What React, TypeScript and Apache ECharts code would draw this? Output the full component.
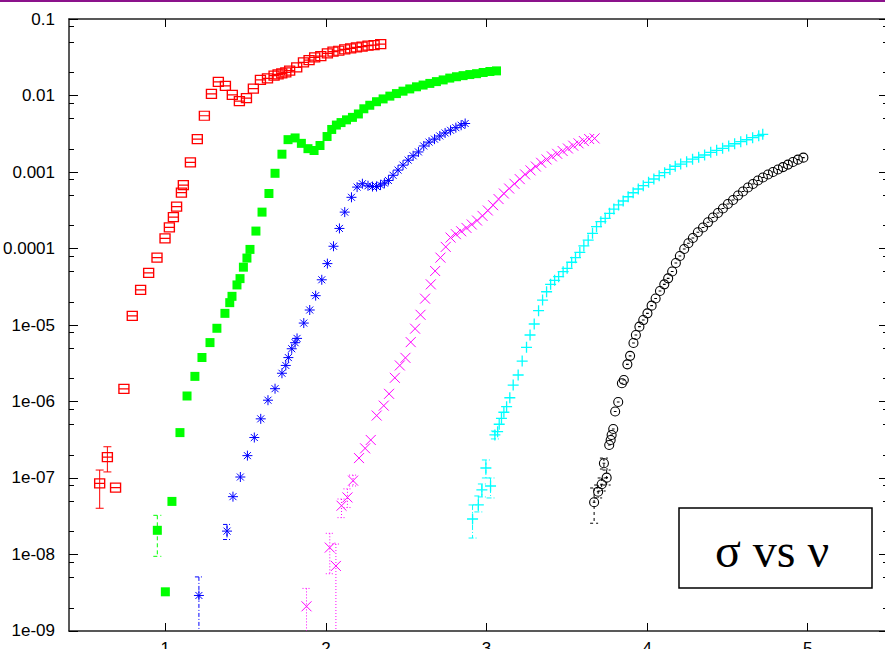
import React, { useEffect, useRef } from "react";
import * as echarts from "echarts";

// ---------- axis ticks / labels ----------
const xTickValues = [1, 2, 3, 4, 5];
const xTickLabels = ["1", "2", "3", "4", "5"];
const yTickValues = [1e-9, 1e-8, 1e-7, 1e-6, 1e-5, 1e-4, 1e-3, 1e-2, 1e-1];
const yTickLabels = ["1e-09", "1e-08", "1e-07", "1e-06", "1e-05", "0.0001", "0.001", "0.01", "0.1"];
const yMinorTickValues = [
  2e-9, 5e-9, 8e-9, 2e-8, 5e-8, 8e-8, 2e-7, 5e-7, 8e-7, 2e-6, 5e-6, 8e-6,
  2e-5, 5e-5, 8e-5, 2e-4, 5e-4, 8e-4, 2e-3, 5e-3, 8e-3, 2e-2, 5e-2, 8e-2,
];
const titleText = "σ vs ν";

// ---------- data ----------
const redX = [0.591,0.639,0.690,0.742,0.794,0.846,0.896,0.948,0.998,1.025,1.050,1.070,1.100,1.112,1.156,1.199,1.243,1.287,1.330,1.374,1.417,1.461,1.505,1.548,1.592,1.636,1.677,1.702,1.725,1.750,1.774,1.818,1.860,1.895,1.930,1.968,2.009,2.044,2.080,2.117,2.154,2.190,2.225,2.262,2.300,2.341];
const redY = [8.53e-8,1.87e-7,7.46e-8,1.46e-6,1.32e-5,2.87e-5,4.79e-5,7.59e-5,1.36e-4,1.89e-4,2.58e-4,3.52e-4,5.36e-4,6.76e-4,1.34e-3,2.70e-3,5.44e-3,1.05e-2,1.51e-2,1.34e-2,1.02e-2,8.47e-3,9.27e-3,1.23e-2,1.60e-2,1.68e-2,1.82e-2,1.89e-2,1.95e-2,2.01e-2,2.11e-2,2.34e-2,2.72e-2,2.91e-2,3.16e-2,3.28e-2,3.56e-2,3.74e-2,3.85e-2,4.02e-2,4.14e-2,4.27e-2,4.35e-2,4.48e-2,4.57e-2,4.71e-2];
const redErr = [[0.591, 4.02e-8, 1.27e-7], [0.639, 1.20e-7, 2.56e-7]];

const greenX = [0.950,1.000,1.041,1.091,1.135,1.184,1.228,1.278,1.321,1.371,1.401,1.415,1.446,1.465,1.486,1.508,1.527,1.564,1.602,1.645,1.683,1.726,1.764,1.808,1.847,1.888,1.926,1.963,2.007,2.036,2.065,2.094,2.128,2.165,2.202,2.236,2.273,2.315,2.356,2.398,2.439,2.480,2.522,2.564,2.605,2.647,2.688,2.730,2.771,2.813,2.854,2.896,2.938,2.979,3.021,3.062];
const greenY = [2.07e-8,3.25e-9,4.94e-8,3.92e-7,1.18e-6,2.13e-6,3.76e-6,5.89e-6,9.06e-6,1.42e-5,1.96e-5,2.37e-5,3.34e-5,4.04e-5,5.70e-5,7.50e-5,9.73e-5,1.69e-4,2.99e-4,5.24e-4,9.62e-4,1.71e-3,2.65e-3,2.79e-3,2.37e-3,2.02e-3,1.91e-3,2.22e-3,2.91e-3,3.60e-3,4.11e-3,4.43e-3,4.81e-3,5.18e-3,5.74e-3,6.71e-3,7.46e-3,8.30e-3,9.03e-3,9.82e-3,1.06e-2,1.14e-2,1.22e-2,1.30e-2,1.37e-2,1.44e-2,1.52e-2,1.60e-2,1.69e-2,1.76e-2,1.82e-2,1.88e-2,1.93e-2,2.00e-2,2.06e-2,2.10e-2];
const greenErr = [[0.950, 9.46e-9, 3.25e-8]];

const blueX = [1.209,1.384,1.421,1.467,1.511,1.554,1.594,1.639,1.683,1.726,1.750,1.766,1.787,1.808,1.820,1.862,1.899,1.936,1.974,2.009,2.047,2.084,2.117,2.159,2.194,2.227,2.262,2.290,2.315,2.340,2.364,2.389,2.418,2.449,2.480,2.512,2.543,2.576,2.609,2.642,2.676,2.709,2.742,2.776,2.809,2.842,2.867];
const blueY = [2.91e-9,2.02e-8,5.70e-8,1.03e-7,1.96e-7,3.38e-7,5.93e-7,1.04e-6,1.47e-6,2.34e-6,2.96e-6,3.75e-6,4.89e-6,5.87e-6,6.68e-6,1.06e-5,1.57e-5,2.42e-5,3.90e-5,6.35e-5,1.07e-4,1.83e-4,2.99e-4,4.67e-4,6.35e-4,7.03e-4,6.61e-4,6.46e-4,6.46e-4,6.75e-4,7.16e-4,7.76e-4,9.06e-4,1.06e-3,1.23e-3,1.43e-3,1.63e-3,1.83e-3,2.19e-3,2.46e-3,2.69e-3,2.96e-3,3.24e-3,3.51e-3,3.80e-3,4.09e-3,4.31e-3];
const blueErr = [[1.209, 1e-9, 5.09e-9], [1.384, 1.57e-8, 2.47e-8]];

const magentaX = [1.879,2.024,2.062,2.097,2.134,2.169,2.206,2.244,2.279,2.316,2.360,2.393,2.429,2.460,2.495,2.528,2.555,2.589,2.617,2.653,2.680,2.713,2.746,2.776,2.809,2.842,2.875,2.908,2.941,2.975,3.008,3.041,3.075,3.108,3.141,3.174,3.207,3.240,3.274,3.307,3.340,3.374,3.407,3.440,3.474,3.507,3.540,3.573,3.606,3.639,3.673];
const magentaY = [2.10e-9,1.23e-8,7.08e-9,4.34e-8,5.57e-8,9.23e-8,1.82e-7,2.44e-7,3.14e-7,6.55e-7,8.83e-7,1.26e-6,2.04e-6,2.96e-6,3.72e-6,5.97e-6,8.95e-6,1.36e-5,2.21e-5,3.40e-5,5.08e-5,7.60e-5,1.05e-4,1.39e-4,1.54e-4,1.68e-4,1.86e-4,2.06e-4,2.32e-4,2.67e-4,3.14e-4,3.68e-4,4.43e-4,5.24e-4,6.08e-4,7.01e-4,8.07e-4,9.31e-4,1.05e-3,1.18e-3,1.32e-3,1.46e-3,1.60e-3,1.73e-3,1.88e-3,2.03e-3,2.21e-3,2.37e-3,2.54e-3,2.70e-3,2.75e-3];
const magentaErr = [[1.879, 1e-9, 3.60e-9], [2.024, 5.60e-9, 1.89e-8], [2.062, 1e-9, 1.37e-8], [2.097, 3.03e-8, 5.31e-8], [2.134, 4.11e-8, 7.21e-8], [2.169, 7.86e-8, 1.09e-7]];

const cyanX = [2.913,2.949,2.971,2.996,3.025,3.052,3.069,3.079,3.093,3.108,3.125,3.145,3.166,3.197,3.222,3.249,3.271,3.297,3.324,3.349,3.374,3.399,3.424,3.449,3.477,3.502,3.530,3.554,3.581,3.606,3.633,3.660,3.685,3.712,3.739,3.766,3.793,3.822,3.851,3.882,3.913,3.945,3.976,4.009,4.042,4.075,4.109,4.142,4.175,4.209,4.246,4.283,4.321,4.358,4.396,4.433,4.470,4.508,4.545,4.583,4.620,4.657,4.695,4.720];
const cyanY = [2.91e-8,4.44e-8,6.97e-8,1.35e-7,7.86e-8,3.65e-7,4.03e-7,5.04e-7,6.03e-7,7.23e-7,8.55e-7,1.12e-6,1.64e-6,2.22e-6,3.38e-6,5.11e-6,7.40e-6,1.03e-5,1.54e-5,2.12e-5,2.72e-5,3.40e-5,3.84e-5,4.28e-5,4.98e-5,5.51e-5,6.61e-5,7.59e-5,8.91e-5,1.08e-4,1.29e-4,1.58e-4,1.93e-4,2.24e-4,2.48e-4,2.88e-4,3.28e-4,3.71e-4,4.18e-4,4.75e-4,5.36e-4,6.00e-4,6.62e-4,7.33e-4,8.10e-4,8.95e-4,9.79e-4,1.08e-3,1.19e-3,1.27e-3,1.36e-3,1.47e-3,1.56e-3,1.67e-3,1.81e-3,1.92e-3,2.04e-3,2.19e-3,2.34e-3,2.49e-3,2.64e-3,2.81e-3,2.98e-3,3.11e-3];
const cyanErr = [[2.913, 1.64e-8, 4.44e-8], [2.949, 3.60e-8, 5.82e-8], [2.971, 5.65e-8, 8.35e-8], [2.996, 1.00e-7, 1.72e-7], [3.025, 5.48e-8, 1.00e-7], [3.052, 3.24e-7, 4.11e-7]];

const blackX = [3.670,3.695,3.717,3.748,3.731,3.764,3.773,3.779,3.789,3.801,3.820,3.843,3.855,3.877,3.894,3.915,3.930,3.952,3.976,4.002,4.028,4.053,4.080,4.107,4.131,4.156,4.179,4.204,4.231,4.257,4.285,4.316,4.348,4.379,4.410,4.441,4.472,4.503,4.535,4.566,4.597,4.628,4.659,4.690,4.721,4.753,4.784,4.815,4.846,4.877,4.908,4.939,4.973];
const blackY = [4.81e-8,6.62e-8,8.28e-8,1.01e-7,1.56e-7,2.70e-7,3.14e-7,3.65e-7,4.37e-7,7.40e-7,9.84e-7,1.73e-6,1.91e-6,3.06e-6,3.95e-6,5.82e-6,7.40e-6,9.51e-6,1.16e-5,1.42e-5,1.79e-5,2.22e-5,2.78e-5,3.40e-5,4.07e-5,5.00e-5,6.46e-5,7.98e-5,9.84e-5,1.17e-4,1.37e-4,1.63e-4,1.88e-4,2.20e-4,2.54e-4,2.91e-4,3.33e-4,3.82e-4,4.31e-4,4.93e-4,5.56e-4,6.27e-4,6.97e-4,7.74e-4,8.47e-4,9.27e-4,1.00e-3,1.08e-3,1.16e-3,1.25e-3,1.35e-3,1.45e-3,1.54e-3];
const blackErr = [[3.670, 2.56e-8, 7.40e-8], [3.695, 5.48e-8, 8.09e-8], [3.717, 6.76e-8, 1.00e-7], [3.748, 8.09e-8, 1.27e-7], [3.731, 1.31e-7, 1.82e-7]];

// ---------- styling ----------
const X_MIN = 0.4;
const X_MAX = 5.5;
const Y_MIN = 9.99e-10;
const Y_MAX = 0.1001;

const SYM_SQUARE_MID = "path://M0,0H10V10H0Z M0,5H10";
const SYM_STAR = "path://M5,0V10 M0,5H10 M1.5,1.5L8.5,8.5 M8.5,1.5L1.5,8.5";
const SYM_CROSS = "path://M0,0L10,10 M10,0L0,10";
const SYM_PLUS = "path://M5,0V10 M0,5H10";
const SYM_CIRCLE = "path://M0,5A5,5,0,1,1,10,5A5,5,0,1,1,0,5Z M3.5,5H6.5";

const LABEL_FONT = "'Liberation Sans', Arial, Helvetica, sans-serif";

function pairs(xs: number[], ys: number[]) {
  return xs.map((x, i) => [x, ys[i]]);
}

function scatterSeries(name: string, xs: number[], ys: number[], symbol: string, size: any, color: string, filled: boolean, lw: number) {
  return {
    name,
    type: "scatter",
    data: pairs(xs, ys),
    symbol,
    symbolSize: size,
    xAxisIndex: 0,
    yAxisIndex: 0,
    silent: true,
    z: 3,
    itemStyle: filled
      ? { color, opacity: 1 }
      : { color: "none", borderColor: color, borderWidth: lw, opacity: 1 },
  };
}

function errorSeries(name: string, data: number[][], color: string, dash: any) {
  return {
    name,
    type: "custom",
    data,
    xAxisIndex: 0,
    yAxisIndex: 0,
    silent: true,
    z: 2,
    encode: { x: 0, y: [1, 2] },
    renderItem: (_params: any, api: any) => {
      const x = api.value(0);
      const lo = api.value(1);
      const hi = api.value(2);
      const a = api.coord([x, hi]);
      const b = api.coord([x, lo]);
      const children: any[] = [
        { type: "line", shape: { x1: a[0], y1: a[1], x2: b[0], y2: b[1] }, style: { stroke: color, lineWidth: 1, lineDash: dash } },
        { type: "line", shape: { x1: a[0] - 4, y1: a[1], x2: a[0] + 4, y2: a[1] }, style: { stroke: color, lineWidth: 1, lineDash: dash } },
      ];
      if (lo > 1.05e-9) {
        children.push({ type: "line", shape: { x1: b[0] - 4, y1: b[1], x2: b[0] + 4, y2: b[1] }, style: { stroke: color, lineWidth: 1, lineDash: dash } });
      }
      return { type: "group", children };
    },
  };
}

function yLabel(v: number) {
  let best = 0;
  let bd = Infinity;
  yTickValues.forEach((t, i) => {
    const d = Math.abs(Math.log10(v) - Math.log10(t));
    if (d < bd) { bd = d; best = i; }
  });
  return yTickLabels[best];
}

function xLabel(v: number) {
  const i = xTickValues.findIndex((t) => Math.abs(t - v) < 1e-6);
  return i >= 0 ? xTickLabels[i] : "";
}

const axisLineStyle = { color: "#222", width: 1.5 };
const tickLineStyle = { color: "#000", width: 1 };

export default function App() {
  const ref = useRef<HTMLDivElement>(null);
  useEffect(() => {
    if (!ref.current) return;
    const chart = echarts.init(ref.current, undefined, { renderer: "svg" });
    const option: any = {
      animation: false,
      backgroundColor: "#ffffff",
      grid: { left: 69, top: 19, width: 819, height: 612, containLabel: false, outerBoundsMode: "none" },
      xAxis: [
        {
          type: "value", position: "bottom", min: X_MIN, max: X_MAX,
          axisLine: { show: true, onZero: false, lineStyle: axisLineStyle },
          axisTick: { show: true, inside: true, length: 8, customValues: xTickValues, lineStyle: tickLineStyle },
          axisLabel: { show: true, customValues: xTickValues, formatter: xLabel, color: "#000", fontSize: 17, fontFamily: LABEL_FONT, margin: 9 },
          splitLine: { show: false },
        },
        {
          type: "value", position: "top", min: X_MIN, max: X_MAX,
          axisLine: { show: true, onZero: false, lineStyle: axisLineStyle },
          axisTick: { show: true, inside: true, length: 8, customValues: xTickValues, lineStyle: tickLineStyle },
          axisLabel: { show: false },
          splitLine: { show: false },
        },
      ],
      yAxis: [
        {
          type: "log", logBase: 10, position: "left", min: Y_MIN, max: Y_MAX,
          axisLine: { show: true, onZero: false, lineStyle: axisLineStyle },
          axisTick: { show: true, inside: true, length: 9, customValues: yTickValues, lineStyle: tickLineStyle },
          axisLabel: { show: true, customValues: yTickValues, formatter: yLabel, color: "#000", fontSize: 17, fontFamily: LABEL_FONT, margin: 14 },
          splitLine: { show: false },
        },
        {
          type: "log", logBase: 10, position: "left", min: Y_MIN, max: Y_MAX,
          axisLine: { show: false },
          axisTick: { show: true, inside: true, length: 5, customValues: yMinorTickValues, lineStyle: tickLineStyle },
          axisLabel: { show: false },
          splitLine: { show: false },
        },
        {
          type: "log", logBase: 10, position: "right", min: Y_MIN, max: Y_MAX,
          axisLine: { show: true, onZero: false, lineStyle: axisLineStyle },
          axisTick: { show: true, inside: true, length: 9, customValues: yTickValues, lineStyle: tickLineStyle },
          axisLabel: { show: false },
          splitLine: { show: false },
        },
        {
          type: "log", logBase: 10, position: "right", min: Y_MIN, max: Y_MAX,
          axisLine: { show: false },
          axisTick: { show: true, inside: true, length: 5, customValues: yMinorTickValues, lineStyle: tickLineStyle },
          axisLabel: { show: false },
          splitLine: { show: false },
        },
      ],
      series: [
        errorSeries("red-err", redErr, "#ff0000", null),
        scatterSeries("red", redX, redY, SYM_SQUARE_MID, [10, 9], "#ff0000", false, 1.3),
        errorSeries("green-err", greenErr, "#00ff00", [4, 3]),
        scatterSeries("green", greenX, greenY, "rect", 9, "#00ff00", true, 1),
        errorSeries("blue-err", blueErr, "#0000ff", [4, 2, 1, 2]),
        scatterSeries("blue", blueX, blueY, SYM_STAR, 10, "#0000ff", false, 1),
        errorSeries("magenta-err", magentaErr, "#ff00ff", [1, 2]),
        scatterSeries("magenta", magentaX, magentaY, SYM_CROSS, 10, "#ff00ff", false, 1),
        errorSeries("cyan-err", cyanErr, "#00ffff", [5, 2, 1, 2]),
        scatterSeries("cyan", cyanX, cyanY, SYM_PLUS, 11, "#00ffff", false, 1.3),
        errorSeries("black-err", blackErr, "#000000", [3, 3]),
        scatterSeries("black", blackX, blackY, SYM_CIRCLE, 9, "#000000", false, 1.1),
      ],
      graphic: [
        { type: "rect", left: 0, top: 0, shape: { x: 0, y: 0, width: 885, height: 2 }, style: { fill: "#8b128b" }, z: 100 },
        {
          type: "group", z: 100,
          children: [
            { type: "rect", shape: { x: 679, y: 508, width: 193, height: 80 }, style: { fill: "#ffffff", stroke: "#000", lineWidth: 1.5 } },
            { type: "text", x: 772, y: 550, style: { text: titleText, fill: "#000", fontSize: 48, fontFamily: "'Liberation Serif', 'Times New Roman', serif", align: "center", verticalAlign: "middle" } },
          ],
        },
      ],
    };
    chart.setOption(option);
    return () => chart.dispose();
  }, []);
  return <div ref={ref} style={{ position: "absolute", left: 0, top: 0, width: 885, height: 649 }} />;
}
